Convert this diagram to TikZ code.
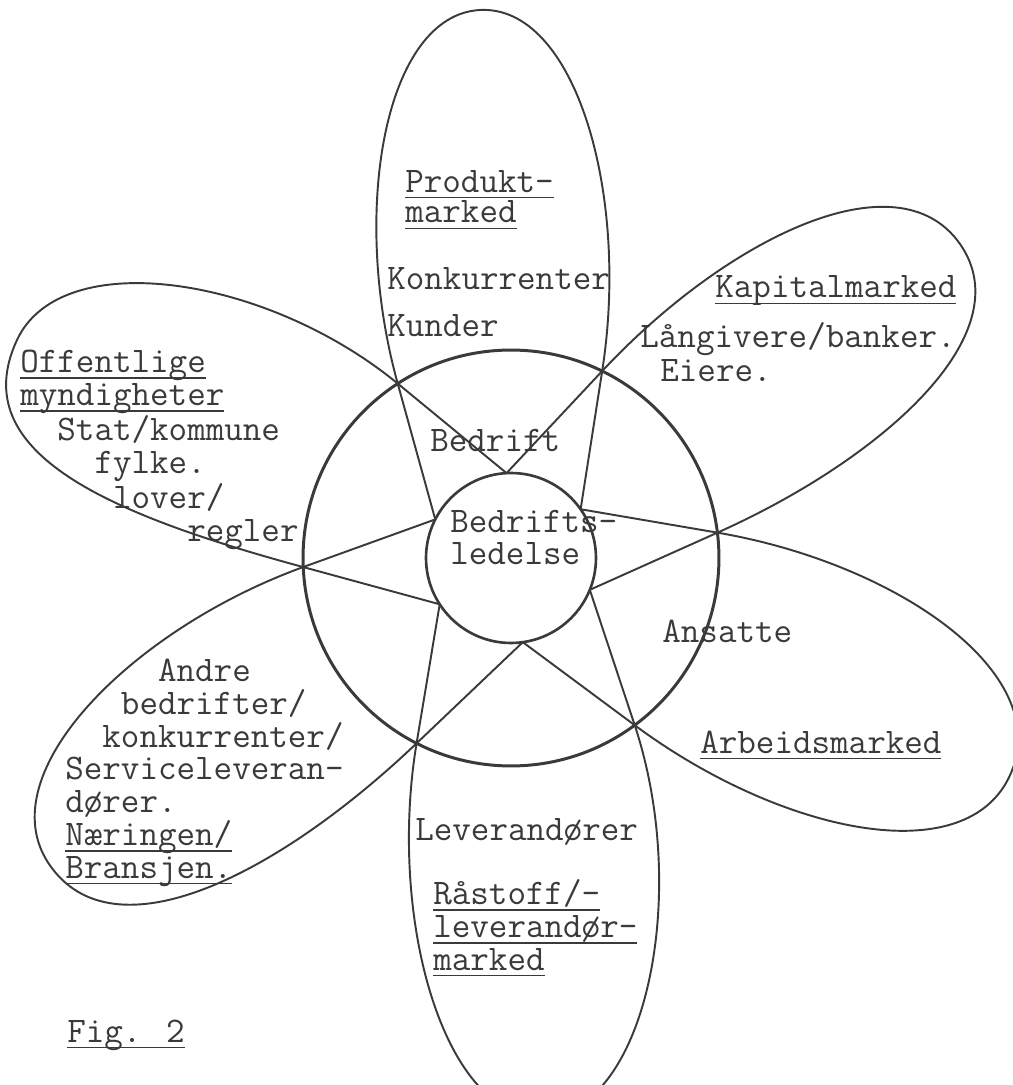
\documentclass[tikz,border=0pt]{standalone}
\usepackage{tikz}
\usetikzlibrary{positioning}
\definecolor{ink}{HTML}{3A3A3A}
\newcommand\tyfont{\ttfamily\fontsize{20.5}{18.6}\selectfont}
\newcommand\ulbar[1]{\setbox0\hbox{#1}\rlap{\rule[-3.6pt]{\wd0}{0.9pt}}#1}

\begin{document}
\begin{tikzpicture}[x=0.02cm, y=0.02cm,
  petal/.style={draw=ink, line width=1.1pt, line join=round},
  ring/.style={draw=ink, circle, inner sep=0pt},
  lbl/.style={anchor=base west, inner sep=0pt, text=ink, font=\tyfont, align=left}]
\clip (-511,-527) rectangle (502,558);

% the two circles
\node[ring, line width=1.7pt, minimum size=8.32cm] (bedrift) at (0,0) {};
\node[ring, line width=1.5pt, minimum size=3.4cm] (ledelse) at (0,0) {};

% points on the outer and inner circle
\coordinate (o1) at (123:208);
\coordinate (o2) at (64:208);
\coordinate (o3) at (7:208);
\coordinate (o4) at (-53.5:208);
\coordinate (o5) at (-117:208);
\coordinate (o6) at (182.5:208);
\coordinate (i1) at (93:85);
\coordinate (i2) at (35:85);
\coordinate (i3) at (-22:85);
\coordinate (i4) at (-82:85);
\coordinate (i5) at (-147:85);
\coordinate (i6) at (153:85);

% petal tips
\coordinate (tipprod) at (-31,548);
\coordinate (tipkap) at (449,314);
\coordinate (tiparb) at (500,-215);
\coordinate (tipraa) at (34,-559);
\coordinate (tipandre) at (-462,-306);
\coordinate (tipoff) at (-494,218);

% petals
\draw[petal] (i6) -- (o1) .. controls +(105.5:180) and +(183:95) .. (tipprod)
  .. controls +(3:95) and +(81.1:180) .. (o2) -- (i2);
\draw[petal] (i1) -- (o2) .. controls +(46.9:180) and +(125:110) .. (tipkap)
  .. controls +(-55:110) and +(24.1:180) .. (o3) -- (i3);
\draw[petal] (i2) -- (o3) .. controls +(-9.7:180) and +(67:110) .. (tiparb)
  .. controls +(-113:110) and +(-36.6:180) .. (o4) -- (i4);
\draw[petal] (i3) -- (o4) .. controls +(-71.7:180) and +(3.5:100) .. (tipraa)
  .. controls +(-176.5:100) and +(-99.4:180) .. (o5) -- (i5);
\draw[petal] (i4) -- (o5) .. controls +(-136.4:190) and +(-56:115) .. (tipandre)
  .. controls +(124:110) and +(-160.1:180) .. (o6) -- (i6);
\draw[petal] (i5) -- (o6) .. controls +(164.8:200) and +(245:125) .. (tipoff)
  .. controls +(65:105) and +(140.6:170) .. (o1) -- (i1);

% texts
\node[lbl, font=\ttfamily\fontsize{20.5}{17.6}\selectfont] (produkt) at (-106,335)
  {\ulbar{Produkt-}\\\ulbar{marked}};
\node[lbl] (konk) at (-124,268) {Konkurrenter};
\node[lbl] (kunder) at (-124,221) {Kunder};
\node[lbl] (bedrtxt) at (-81,106) {Bedrift};
\node[lbl] (ledtxt) at (-61,-7) {Bedrifts-\\ledelse};
\node[lbl] (kapital) at (204,260) {\ulbar{Kapitalmarked}};
\node[lbl] (langiv) at (129,210) {L\aa ngivere/banker.};
\node[lbl] (eiere) at (149,176) {Eiere.};
\node[lbl, font=\ttfamily\fontsize{20.5}{18.9}\selectfont] (offentlig) at (-491,16)
  {\ulbar{Offentlige}\\\ulbar{myndigheter}\\~~Stat/kommune\\~~~~fylke.\\~~~~~lover/\\~~~~~~~~~regler};
\node[lbl] (ansatte) at (151,-84) {Ansatte};
\node[lbl] (arbeid) at (189,-195) {\ulbar{Arbeidsmarked}};
\node[lbl] (andre) at (-446,-320)
  {~~~~~Andre\\~~~bedrifter/\\~~konkurrenter/\\Serviceleveran-\\d\o rer.\\\ulbar{N\ae ringen/}\\\ulbar{Bransjen.}};
\node[lbl] (lever) at (-96,-282) {Leverand\o rer};
\node[lbl] (raastoff) at (-78,-412) {\ulbar{R\aa stoff/-}\\\ulbar{leverand\o r-}\\\ulbar{marked}};
\node[lbl] (fig) at (-444,-484) {\ulbar{Fig. 2}};
\end{tikzpicture}
\end{document}
